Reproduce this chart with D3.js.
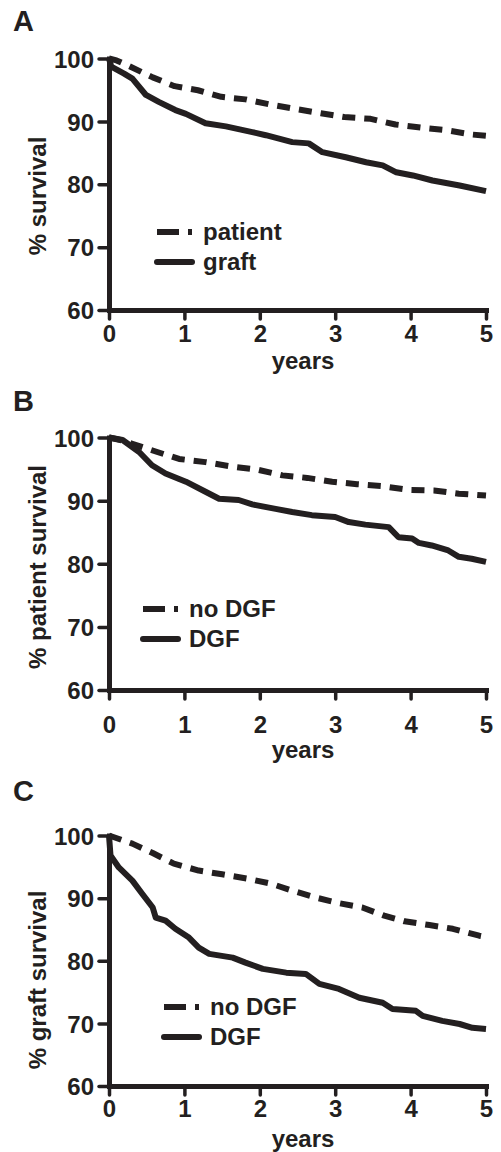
<!DOCTYPE html>
<html>
<head>
<meta charset="utf-8">
<script src="https://cdn.jsdelivr.net/npm/d3@7"></script>
<style>
body { margin: 0; background: #fff; }
svg text { font-family: "Liberation Sans", Arial, sans-serif; font-weight: bold; fill: #231f20; }
</style>
</head>
<body>
<svg></svg>
<script>
// ticks shared by all 3 panels
let yearTicks = [0, 1, 2, 3, 4, 5]
let survivalTicks = [60, 70, 80, 90, 100]

// panel A : patient vs graft
let patientA = [[0,100],[0.1,99.7],[0.25,98.9],[0.58,97.0],[0.87,95.6],[1.18,94.95],[1.49,93.9],[1.81,93.5],[2.13,92.7],[2.46,92.0],[2.81,91.3],[3.12,90.7],[3.47,90.4],[3.8,89.5],[4.14,89.0],[4.47,88.6],[4.82,87.9],[5,87.7]]
let graftA = [[0,100],[0.03,98.7],[0.2,97.6],[0.31,96.8],[0.49,94.2],[0.66,93.1],[0.88,91.8],[1.02,91.2],[1.28,89.7],[1.55,89.2],[1.9,88.3],[2.08,87.8],[2.43,86.7],[2.65,86.5],[2.83,85.1],[3.14,84.3],[3.41,83.5],[3.63,83.0],[3.81,81.9],[4.03,81.4],[4.29,80.6],[4.65,79.8],[5,78.9]]

// panel B : patient survival, no DGF vs DGF
let noDgfB = [[0,100],[0.15,99.6],[0.31,99.0],[0.64,97.7],[0.93,96.6],[1.28,96.1],[1.63,95.4],[1.97,94.9],[2.3,94.0],[2.63,93.6],[2.96,93.0],[3.29,92.6],[3.62,92.3],[3.98,91.7],[4.31,91.6],[4.64,91.1],[5,90.8]]
let dgfB = [[0,100],[0.18,99.6],[0.4,97.7],[0.57,95.6],[0.75,94.3],[1.02,93.0],[1.28,91.4],[1.46,90.3],[1.72,90.1],[1.9,89.4],[2.21,88.7],[2.43,88.2],[2.69,87.7],[3.0,87.4],[3.18,86.6],[3.4,86.2],[3.71,85.8],[3.84,84.2],[4.02,84.0],[4.11,83.3],[4.28,82.9],[4.5,82.1],[4.64,81.1],[4.81,80.8],[5,80.3]]

// panel C : graft survival, no DGF vs DGF
let noDgfC = [[0,100],[0.31,98.7],[0.58,97.2],[0.86,95.5],[1.19,94.4],[1.5,93.8],[1.84,93.1],[2.15,92.3],[2.43,91.2],[2.74,90.1],[3.05,89.2],[3.36,88.5],[3.65,87.2],[3.92,86.3],[4.25,85.7],[4.56,85.1],[4.91,84.0],[5,83.8]]
let dgfC = [[0,100],[0.02,96.8],[0.13,94.9],[0.31,92.8],[0.44,90.7],[0.58,88.5],[0.62,86.9],[0.75,86.4],[0.88,85.1],[1.06,83.7],[1.19,82.1],[1.33,81.1],[1.64,80.5],[1.81,79.7],[2.04,78.7],[2.35,78.1],[2.61,77.9],[2.79,76.3],[3.05,75.5],[3.32,74.1],[3.63,73.3],[3.76,72.3],[4.07,72.0],[4.16,71.2],[4.42,70.4],[4.65,69.9],[4.82,69.3],[5,69.1]]

let width = 501
let height = 1152
let ink = '#231f20'

let svg = d3.select('svg').attr('width', width).attr('height', height)

// layout of each panel (pixel positions only)
let panels = [
    {letter: 'A', letterY: 31, top: 58.5, bottom: 310, tickPad: 6, titleY: 369, labelY: 196,
     ylabel: '% survival', dashed: patientA, solid: graftA, names: ['patient', 'graft'],
     legX: 157, legY: 232},
    {letter: 'B', letterY: 411, top: 437.5, bottom: 690, tickPad: 17, titleY: 758, labelY: 567,
     ylabel: '% patient survival', dashed: noDgfB, solid: dgfB, names: ['no DGF', 'DGF'],
     legX: 143, legY: 609},
    {letter: 'C', letterY: 801, top: 835.5, bottom: 1086, tickPad: 5, titleY: 1147, labelY: 980,
     ylabel: '% graft survival', dashed: noDgfC, solid: dgfC, names: ['no DGF', 'DGF'],
     legX: 164, legY: 1007}
]

let left = 109
let right = 486

let drawPanel = (p) => {
    let xScale = d3.scaleLinear().domain([0, 5]).range([left, right])
    let yScale = d3.scaleLinear().domain([60, 100]).range([p.bottom, p.top])

    let g = svg.append('g')

    g.append('text').attr('x', 13).attr('y', p.letterY)
        .style('font-size', '29px').text(p.letter)

    // axes
    let xAxis = d3.axisBottom(xScale).tickValues(yearTicks).tickFormat(d3.format('d'))
        .tickSize(9).tickSizeOuter(0).tickPadding(p.tickPad)
    let yAxis = d3.axisLeft(yScale).tickValues(survivalTicks).tickFormat(d3.format('d'))
        .tickSize(10).tickSizeOuter(0).tickPadding(5)

    let gx = g.append('g').attr('transform', 'translate(0,' + p.bottom + ')').call(xAxis)
    let gy = g.append('g').attr('transform', 'translate(' + left + ',0)').call(yAxis)

    for (let a of [gx, gy]) {
        a.select('.domain').attr('stroke', ink).attr('stroke-width', 5).attr('stroke-linecap', 'square')
        a.selectAll('.tick line').attr('stroke', ink).attr('stroke-width', 3.5).attr('stroke-linecap', 'round')
        a.selectAll('.tick text').attr('fill', ink)
            .style('font-size', '24px').style('font-family', '"Liberation Sans", Arial, sans-serif').style('font-weight', 'bold')
    }
    gy.selectAll('.tick text').attr('dy', '0.36em')

    g.append('text').attr('x', 303).attr('y', p.titleY).attr('text-anchor', 'middle')
        .style('font-size', '24px').text('years')

    g.append('text').attr('transform', 'translate(46,' + p.labelY + ') rotate(-90)')
        .attr('text-anchor', 'middle').style('font-size', '24px').text(p.ylabel)

    // survival curves
    let line = d3.line().x(d => xScale(d[0])).y(d => yScale(d[1]))

    g.append('path').datum(p.dashed).attr('d', line)
        .attr('fill', 'none').attr('stroke', ink).attr('stroke-width', 6)
        .attr('stroke-dasharray', '13,9').attr('stroke-linejoin', 'round')

    g.append('path').datum(p.solid).attr('d', line)
        .attr('fill', 'none').attr('stroke', ink).attr('stroke-width', 6)
        .attr('stroke-linejoin', 'round')

    // legend
    g.append('line').attr('x1', p.legX).attr('x2', p.legX + 35).attr('y1', p.legY).attr('y2', p.legY)
        .attr('stroke', ink).attr('stroke-width', 6).attr('stroke-dasharray', '22,9,4,10')
    g.append('line').attr('x1', p.legX).attr('x2', p.legX + 35).attr('y1', p.legY + 30).attr('y2', p.legY + 30)
        .attr('stroke', ink).attr('stroke-width', 6).attr('stroke-linecap', 'round')
    g.append('text').attr('x', p.legX + 46).attr('y', p.legY + 8).style('font-size', '24px').text(p.names[0])
    g.append('text').attr('x', p.legX + 46).attr('y', p.legY + 38).style('font-size', '24px').text(p.names[1])
}

panels.forEach(drawPanel)
</script>
</body>
</html>
